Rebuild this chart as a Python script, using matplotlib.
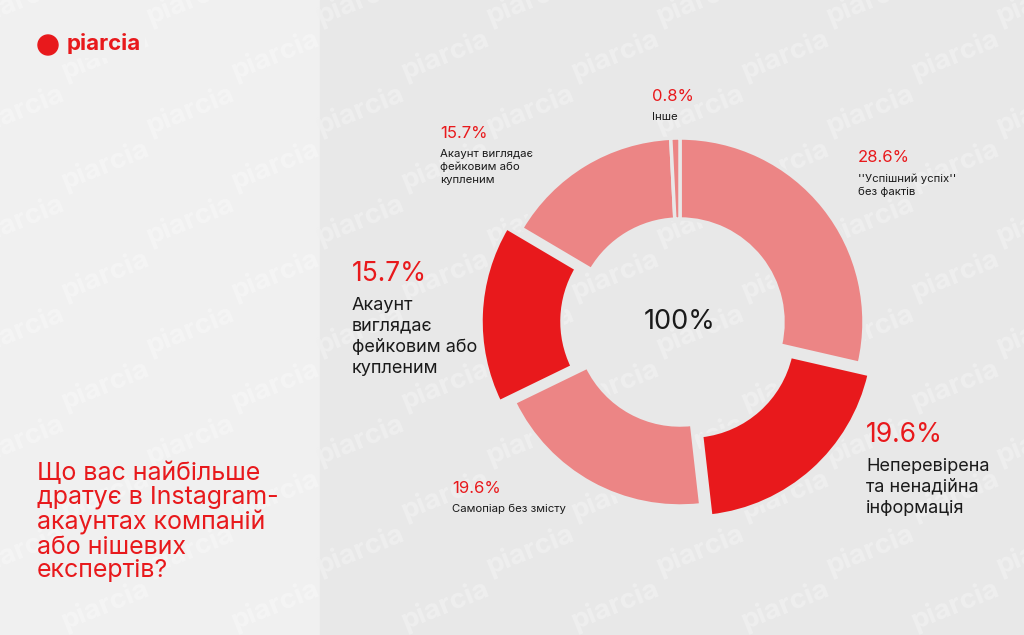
import matplotlib
matplotlib.use("Agg")
import matplotlib.pyplot as plt
from matplotlib.patches import Rectangle

plt.rcParams['font.family'] = ['Inter', 'DejaVu Sans']

# ---- data ----
values = [28.6, 19.6, 19.6, 15.7, 15.7, 0.8]
pct_labels = ["28.6%", "19.6%", "19.6%", "15.7%", "15.7%", "0.8%"]
cat_labels = ["''Успішний успіх''\nбез фактів",
              "Неперевірена\nта ненадійна\nінформація",
              "Самопіар без змісту",
              "Акаунт\nвиглядає\nфейковим або\nкупленим",
              "Акаунт виглядає\nфейковим або\nкупленим",
              "Інше"]
highlight = [False, True, False, True, False, False]
center_label = "100%"
title = "Що вас найбільше\nдратує в Instagram-\nакаунтах компаній\nабо нішевих\nекспертів?"
brand = "piarcia"

RED = "#e8191c"
PINK = "#ec8585"
DARK = "#1a1a1a"

W, H = 1024, 635
fig = plt.figure(figsize=(W / 100, H / 100), dpi=100)
ax = fig.add_axes([0, 0, 1, 1])
ax.set_xlim(0, W)
ax.set_ylim(0, H)
ax.set_aspect('equal')
ax.axis('off')

# backgrounds
ax.add_patch(Rectangle((0, 0), 320, H, color="#f0f0f0", zorder=0))
ax.add_patch(Rectangle((320, 0), W - 320, H, color="#e8e8e8", zorder=0))

# faint watermarks across the whole picture
for row in range(-2, 14):
    for col in range(-1, 8):
        x = col * 170 + (row % 2) * 85 + 20
        y = H - row * 55
        c = "#efefef" if x > 330 else "#f5f5f5"
        ax.text(x, y, brand, fontsize=20, color=c, rotation=22,
                ha='center', va='center', zorder=1, fontweight='bold',
                clip_on=True)

# donut
cx, cy = 680, H - 322
R, r = 184, 103
colors = [RED if h else PINK for h in highlight]
explode = [15 if h else 0 for h in highlight]
wedges, _ = ax.pie(values, radius=R, center=(cx, cy), startangle=90,
                   counterclock=False, colors=colors, explode=explode,
                   wedgeprops=dict(width=R - r, edgecolor="#e8e8e8", linewidth=2.5))
for w in wedges:
    w.set_zorder(3)
ax.set_xlim(0, W)
ax.set_ylim(0, H)
ax.set_aspect('equal')
ax.axis('off')

ax.text(cx, cy, center_label, fontsize=19.5, color=DARK, ha='center', va='center',
        zorder=4)

# label placements (x, y_top of pct) in pixel coords from top
small = dict(pct=12, lab=8.2, gap=23, ls=1.35)
big = dict(pct=19, lab=13, gap=36, ls=1.3)
positions = [(858, 150, small), (866, 422, big), (452, 481, small),
             (352, 261, big), (440, 126, small), (652, 89, small)]
for i, (x, yt, st) in enumerate(positions):
    ax.text(x, H - yt, pct_labels[i], fontsize=st['pct'], color=RED,
            ha='left', va='top', zorder=4)
    ax.text(x, H - yt - st['gap'], cat_labels[i], fontsize=st['lab'], color=DARK,
            ha='left', va='top', linespacing=st['ls'], zorder=4)

# title
ax.text(37, H - 462, title, fontsize=18, color=RED, ha='left', va='top',
        linespacing=1.03, zorder=4)

# logo
ax.add_patch(plt.Circle((48, H - 45), 10, color=RED, zorder=4))
ax.text(67, H - 44, brand, fontsize=16, color=RED, fontweight='bold',
        ha='left', va='center', zorder=4,
        bbox=dict(boxstyle='square,pad=0.15', fc='#f0f0f0', ec='none'))

fig.savefig("out.png", dpi=100)
